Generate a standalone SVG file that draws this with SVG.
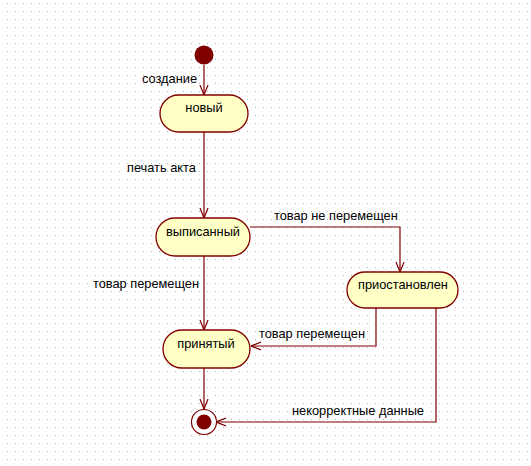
<svg xmlns="http://www.w3.org/2000/svg" width="531" height="466" viewBox="0 0 531 466">
<defs>
<pattern id="grid" x="7" y="3" width="8" height="8" patternUnits="userSpaceOnUse">
<rect x="0" y="0" width="1" height="1" fill="#b0b0b0"/>
</pattern>
<marker id="arr" viewBox="0 0 10 10" refX="10" refY="5" markerWidth="10" markerHeight="10" markerUnits="userSpaceOnUse" orient="auto">
<path d="M0,1 L10,5 L0,9" fill="none" stroke="#800000" stroke-width="1.2"/>
</marker>
<style>
.state{fill:#ffffc6;stroke:#800000;stroke-width:1.3}
.edge{fill:none;stroke:#800000;stroke-width:1.2;marker-end:url(#arr)}
text{font-family:"Liberation Sans",Arial,sans-serif;font-size:12.8px;fill:#000}
.c{text-anchor:middle}
</style>
</defs>
<rect width="531" height="466" fill="#ffffff"/>
<rect width="531" height="466" fill="url(#grid)"/>
<g id="connectors">
<path class="edge" d="M204,65 V95"/>
<path class="edge" d="M204,132 V218"/>
<path class="edge" d="M250,227 H400 V272"/>
<path class="edge" d="M204,256 V330"/>
<path class="edge" d="M376,308 V346 H251"/>
<path class="edge" d="M204,368 V409"/>
<path class="edge" d="M436,308 V422 H216"/>
<text x="142" y="83">создание</text>
<text x="127" y="172">печать акта</text>
<text x="274" y="220">товар не перемещен</text>
<text x="93" y="288">товар перемещен</text>
<text x="259" y="338">товар перемещен</text>
<text x="292" y="415">некорректные данные</text>
</g>
<g id="start"><circle cx="204" cy="55" r="9.5" fill="#800000"/></g>
<g id="new"><rect class="state" x="160" y="95" width="88" height="37" rx="18.5"/><text class="c" x="204" y="112">новый</text></g>
<g id="issued"><rect class="state" x="156" y="218" width="94" height="38" rx="19"/><text class="c" x="203" y="236">выписанный</text></g>
<g id="suspended"><rect class="state" x="347" y="272" width="111" height="36" rx="18"/><text class="c" x="403" y="289">приостановлен</text></g>
<g id="accepted"><rect class="state" x="163" y="330" width="87" height="38" rx="19"/><text class="c" x="206" y="348">принятый</text></g>
<g id="end"><circle cx="204" cy="422" r="12.5" fill="#ffffff" stroke="#800000" stroke-width="1.2"/><circle cx="204" cy="422" r="7.5" fill="#800000"/></g>
</svg>
